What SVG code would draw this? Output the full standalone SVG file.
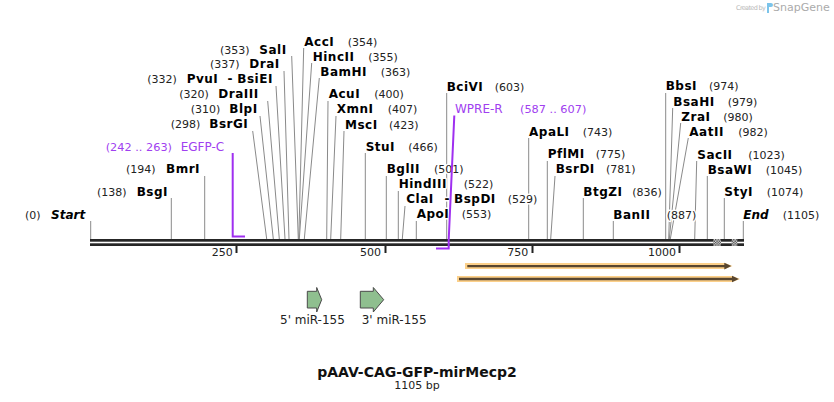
<svg xmlns="http://www.w3.org/2000/svg" width="834" height="402" viewBox="0 0 834 402">
<defs>
<style>
text{font-family:"DejaVu Sans","Liberation Sans",sans-serif}
.n{font-size:12px;font-weight:bold;letter-spacing:.5px;fill:#000}
.i{font-size:12px;font-weight:bold;font-style:italic;fill:#000}
.p{font-size:11px;fill:#222}
.h{stroke:#fff;stroke-width:3;stroke-linejoin:round;paint-order:stroke}
.pr{font-size:12px;fill:#a040f0}
.prn{font-size:11.3px;fill:#a040f0}
.l line{stroke:#8a8a8a;stroke-width:1}
.prim{stroke:#9f2ff0;stroke-width:2;fill:none}
.tk{font-size:11px;fill:#222;text-anchor:end}
.grn{fill:#8fbf8f;stroke:#4a4a4a;stroke-width:1}
.ft{font-size:12px;fill:#222}
</style>
<pattern id="chk" width="2.6" height="2.6" patternUnits="userSpaceOnUse">
<rect width="2.6" height="2.6" fill="#f2f2f2"/>
<rect width="1.3" height="1.3" fill="#333"/>
<rect x="1.3" y="1.3" width="1.3" height="1.3" fill="#333"/>
</pattern>
</defs>
<rect width="834" height="402" fill="#fff"/>

<g id="logo">
<text x="736" y="10" font-size="6.5" letter-spacing="-0.65" fill="#b8b8b8">Created by</text>
<path d="M767 3 h4 a2 2 0 0 1 0 4 h-2 v6 h-2 z" fill="#7cc4ea"/>
<text x="773" y="11" font-size="11" fill="#ababab">SnapGene</text>
</g>

<g id="connectors" class="l">
<line x1="90.7" y1="221" x2="90.7" y2="239"/>
<line x1="171.3" y1="198" x2="171.3" y2="239"/>
<line x1="204.7" y1="176" x2="204.7" y2="239"/>
<line x1="252.7" y1="131" x2="266.7" y2="239"/>
<line x1="260" y1="116" x2="273.3" y2="239"/>
<line x1="267.7" y1="101" x2="279.3" y2="239"/>
<line x1="276" y1="86" x2="285" y2="239"/>
<line x1="284" y1="71" x2="289" y2="239"/>
<line x1="291.7" y1="56" x2="298.3" y2="239"/>
<line x1="303.7" y1="48" x2="298.8" y2="239"/>
<line x1="311.7" y1="63" x2="299.3" y2="239"/>
<line x1="319.3" y1="78" x2="304.3" y2="239"/>
<line x1="328" y1="101" x2="326.7" y2="239"/>
<line x1="336" y1="116" x2="330.7" y2="239"/>
<line x1="344" y1="131" x2="340.7" y2="239"/>
<line x1="365.3" y1="153" x2="365.3" y2="239"/>
<line x1="386.3" y1="176" x2="386.3" y2="239"/>
<line x1="398.3" y1="191" x2="398.3" y2="239"/>
<line x1="405" y1="206" x2="402.3" y2="239"/>
<line x1="416.3" y1="221" x2="416.3" y2="239"/>
<line x1="446.7" y1="93" x2="446.7" y2="239"/>
<line x1="528.7" y1="138" x2="528.7" y2="239"/>
<line x1="547.3" y1="161" x2="547.3" y2="239"/>
<line x1="555" y1="176" x2="550.7" y2="239"/>
<line x1="583.3" y1="198" x2="583.3" y2="239"/>
<line x1="613.3" y1="221" x2="613.3" y2="239"/>
<line x1="665.7" y1="93" x2="665.7" y2="239"/>
<line x1="672.7" y1="108" x2="668.7" y2="239"/>
<line x1="680.7" y1="123" x2="669.3" y2="239"/>
<line x1="688.3" y1="138" x2="670.3" y2="239"/>
<line x1="696.7" y1="161" x2="694.7" y2="239"/>
<line x1="707.3" y1="176" x2="707.3" y2="239"/>
<line x1="724.3" y1="198" x2="724.3" y2="239"/>
<line x1="743.3" y1="221" x2="743.3" y2="239"/>
</g>

<g id="sequence">
<rect x="90" y="239" width="654" height="2.7" fill="#262626"/>
<rect x="90" y="243.3" width="654" height="2.7" fill="#262626"/>
<rect x="713.3" y="239" width="7.7" height="7" fill="url(#chk)"/>
<rect x="731.7" y="239" width="5.6" height="7" fill="url(#chk)"/>
<rect x="235.5" y="246" width="2" height="7" fill="#222"/>
<rect x="384.5" y="246" width="2" height="7" fill="#222"/>
<rect x="531.5" y="246" width="2" height="7" fill="#222"/>
<rect x="678.5" y="246" width="2" height="7" fill="#222"/>
<text class="tk" x="232.7" y="256">250</text>
<text class="tk" x="381" y="256">500</text>
<text class="tk" x="528.3" y="256">750</text>
<text class="tk" x="676" y="256">1000</text>
</g>

<g id="site-start"><text class="p h" x="25" y="218.5">(0)</text><text class="i h" x="51" y="218.5">Start</text></g>
<g id="site-bsgi"><text class="p h" x="97" y="195.7">(138)</text><text class="n h" x="136.7" y="195.7">BsgI</text></g>
<g id="site-bmri"><text class="p h" x="126" y="173.3">(194)</text><text class="n h" x="166" y="173.3">BmrI</text></g>
<g id="site-bsrgi"><text class="p h" x="170.7" y="128.3">(298)</text><text class="n h" x="209.3" y="128.3">BsrGI</text></g>
<g id="site-blpi"><text class="p h" x="190.7" y="113.3">(310)</text><text class="n h" x="229.3" y="113.3">BlpI</text></g>
<g id="site-draiii"><text class="p h" x="179.3" y="98.3">(320)</text><text class="n h" x="218.3" y="98.3">DraIII</text></g>
<g id="site-pvui"><text class="p h" x="147.3" y="83.3">(332)</text><text class="n h" x="186.7" y="83.3">PvuI</text><text class="n h" x="227.5" y="83.3">-</text><text class="n h" x="237.3" y="83.3">BsiEI</text></g>
<g id="site-drai"><text class="p h" x="210" y="68.3">(337)</text><text class="n h" x="249.3" y="68.3">DraI</text></g>
<g id="site-sali"><text class="p h" x="220" y="54">(353)</text><text class="n h" x="259.3" y="54">SalI</text></g>
<g id="site-acci"><text class="n h" x="304.3" y="46">AccI</text><text class="p h" x="347.7" y="46">(354)</text></g>
<g id="site-hincii"><text class="n h" x="312.7" y="60.7">HincII</text><text class="p h" x="368.3" y="60.7">(355)</text></g>
<g id="site-bamhi"><text class="n h" x="320.3" y="75.7">BamHI</text><text class="p h" x="380.7" y="75.7">(363)</text></g>
<g id="site-acui"><text class="n h" x="328.7" y="98.3">AcuI</text><text class="p h" x="374.3" y="98.3">(400)</text></g>
<g id="site-xmni"><text class="n h" x="336.7" y="113.3">XmnI</text><text class="p h" x="387.7" y="113.3">(407)</text></g>
<g id="site-msci"><text class="n h" x="345" y="128.7">MscI</text><text class="p h" x="389" y="128.7">(423)</text></g>
<g id="site-stui"><text class="n h" x="365.7" y="150.7">StuI</text><text class="p h" x="408.3" y="150.7">(466)</text></g>
<g id="site-bglii"><text class="n h" x="386.7" y="173.3">BglII</text><text class="p h" x="434" y="173.3">(501)</text></g>
<g id="site-hindiii"><text class="n h" x="398.7" y="188.3">HindIII</text><text class="p h" x="463.7" y="188.3">(522)</text></g>
<g id="site-clai"><text class="n h" x="406.3" y="203.3">ClaI</text><text class="n h" x="444.5" y="203.3">-</text><text class="n h" x="454" y="203.3">BspDI</text><text class="p h" x="507.7" y="203.3">(529)</text></g>
<g id="site-apoi"><text class="n h" x="416.7" y="218.3">ApoI</text><text class="p h" x="461.7" y="218.3">(553)</text></g>
<g id="site-bcivi"><text class="n h" x="446.7" y="90.7">BciVI</text><text class="p h" x="494.7" y="90.7">(603)</text></g>
<g id="site-apali"><text class="n h" x="529" y="135.7">ApaLI</text><text class="p h" x="582.7" y="135.7">(743)</text></g>
<g id="site-pflmi"><text class="n h" x="547.7" y="158.3">PflMI</text><text class="p h" x="595.7" y="158.3">(775)</text></g>
<g id="site-bsrdi"><text class="n h" x="555.7" y="173.3">BsrDI</text><text class="p h" x="606" y="173.3">(781)</text></g>
<g id="site-btgzi"><text class="n h" x="583.3" y="196">BtgZI</text><text class="p h" x="632.3" y="196">(836)</text></g>
<g id="site-banii"><text class="n h" x="613.3" y="219">BanII</text><text class="p h" x="666.7" y="219">(887)</text></g>
<g id="site-bbsi"><text class="n h" x="665.7" y="90">BbsI</text><text class="p h" x="709" y="90">(974)</text></g>
<g id="site-bsahi"><text class="n h" x="673.3" y="105.7">BsaHI</text><text class="p h" x="727.7" y="105.7">(979)</text></g>
<g id="site-zrai"><text class="n h" x="681.3" y="120.7">ZraI</text><text class="p h" x="723.3" y="120.7">(980)</text></g>
<g id="site-aatii"><text class="n h" x="689.3" y="135.7">AatII</text><text class="p h" x="738.3" y="135.7">(982)</text></g>
<g id="site-sacii"><text class="n h" x="697.3" y="159">SacII</text><text class="p h" x="748.3" y="159">(1023)</text></g>
<g id="site-bsawi"><text class="n h" x="707.7" y="174">BsaWI</text><text class="p h" x="765.7" y="174">(1045)</text></g>
<g id="site-styi"><text class="n h" x="724.3" y="196">StyI</text><text class="p h" x="766.7" y="196">(1074)</text></g>
<g id="site-end"><text class="i h" x="743.3" y="219">End</text><text class="p h" x="782.7" y="219">(1105)</text></g>

<g id="primer-egfp-c">
<path class="prim" d="M232.7 153 V236.5 H245"/>
<text class="prn" x="105.7" y="150.7">(242 .. 263)</text>
<text class="pr" x="180.7" y="150.7">EGFP-C</text>
</g>
<g id="primer-wpre-r">
<path class="prim" d="M454.3 115.5 L448.7 240 V248.5 H436"/>
<text class="pr" x="455" y="113.3">WPRE-R</text>
<text class="prn" x="520" y="113.3">(587 .. 607)</text>
</g>

<g id="feature-orange-1">
<path d="M465 263 H725 L732.5 266 L725 269 H465 Z" fill="#fcd08a"/>
<line x1="467.3" y1="266.1" x2="726" y2="266.1" stroke="#584630" stroke-width="2.3"/>
<path d="M724.3 262.8 L731.3 266.1 L724.3 269.4 Z" fill="#584630"/>
</g>
<g id="feature-orange-2">
<path d="M457 276 H732.5 L740 279 L732.5 282 H457 Z" fill="#fcd08a"/>
<line x1="459" y1="279" x2="733.5" y2="279" stroke="#584630" stroke-width="2.3"/>
<path d="M732 275.8 L738.8 279 L732 282.2 Z" fill="#584630"/>
</g>

<g id="feature-5-mir155">
<path class="grn" d="M307.3 291.3 H316.7 V287.5 L321.7 299.7 L316.7 312 V308 H307.3 Z"/>
<text class="ft" x="280" y="324.3">5' miR-155</text>
</g>
<g id="feature-3-mir155">
<path class="grn" d="M360.3 291.3 H373.3 V287.5 L383.7 299.7 L373.3 312 V308 H360.3 Z"/>
<text class="ft" x="361.7" y="324.3">3' miR-155</text>
</g>

<g id="title">
<text x="417" y="376.5" font-size="14" font-weight="bold" text-anchor="middle" fill="#111">pAAV-CAG-GFP-mirMecp2</text>
<text x="417" y="388.5" font-size="11" text-anchor="middle" fill="#222">1105 bp</text>
</g>
</svg>
